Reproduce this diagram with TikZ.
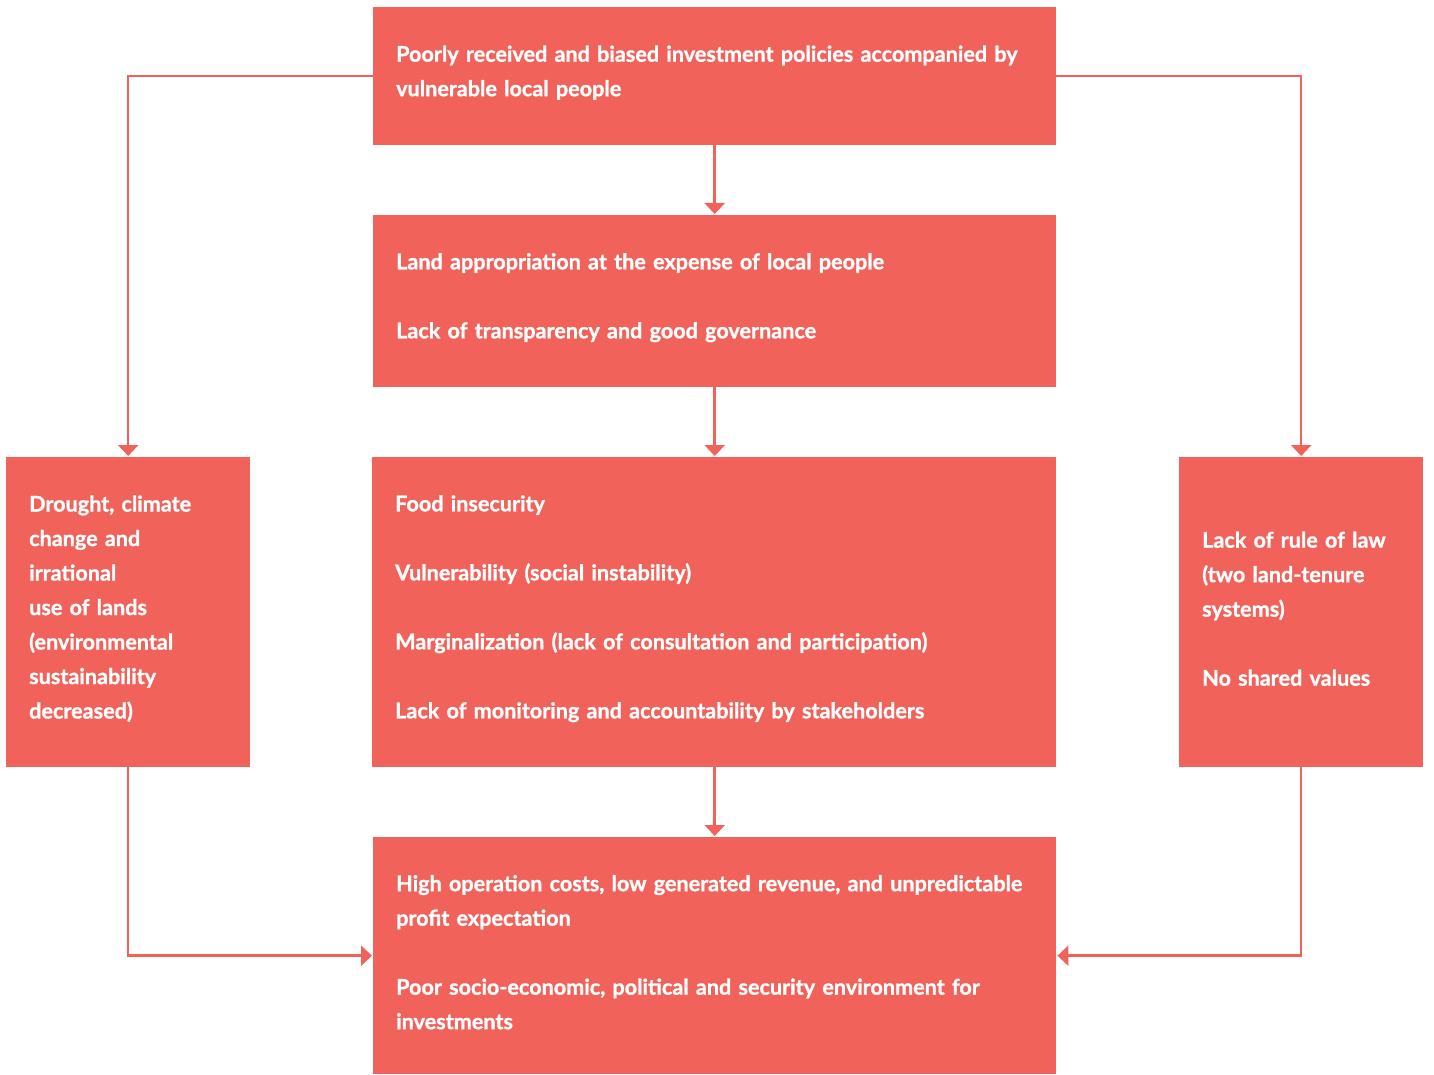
\documentclass[tikz,border=0pt]{standalone}
\usepackage{fontspec}
\setmainfont{Lato}[BoldFeatures={FakeBold=1.2}]
\usetikzlibrary{arrows.meta}
\definecolor{boxred}{HTML}{F0625A}
\tikzset{
  box/.style={fill=boxred, draw=none, text=white, align=left, inner xsep=23pt, inner ysep=0pt,
    font=\bfseries\fontsize{21.6}{34.5}\selectfont, anchor=north west,
    execute at end node={\par\vspace{7pt}}},
  conn/.style={draw=boxred, line width=2.5pt, -{Triangle[width=20pt,length=11pt]}, shorten >=1pt}
}
\begin{document}
\begin{tikzpicture}[x=1pt,y=-1pt]
\useasboundingbox (0,0) rectangle (1434,1075);
\node[box, text width=637pt, minimum height=138pt] (top) at (373,7)
  {Poorly received and biased investment policies accompanied by\\vulnerable local people};
\node[box, text width=637pt, minimum height=172pt] (second) at (373,215)
  {Land appropriation at the expense of local people\\[34.5pt]Lack of transparency and good governance};
\node[box, text width=638pt, minimum height=310pt] (mid) at (372,457)
  {Food insecurity\\[34.5pt]Vulnerability (social instability)\\[34.5pt]Marginalization (lack of consultation and participation)\\[34.5pt]Lack of monitoring and accountability by stakeholders};
\node[box, text width=198pt, minimum height=310pt] (left) at (6,457)
  {Drought, climate\\change and\\irrational\\use of lands\\(environmental\\sustainability\\decreased)};
\node[box, text width=198pt, minimum height=310pt] (right) at (1179,457)
  {Lack of rule of law\\(two land-tenure\\systems)\\[34.5pt]No shared values};
\node[box, text width=637pt, minimum height=237pt] (bottom) at (373,837)
  {High operation costs, low generated revenue, and unpredictable\\profit expectation\\[34.5pt]Poor socio-economic, political and security environment for\\investments};
\draw[conn] (top.west) -| (left.north);
\draw[conn] (top.east) -| (right.north);
\draw[conn] (top.south) -- (second.north);
\draw[conn] (second.south) -- (second.south |- mid.north);
\draw[conn] (mid.south -| bottom.north) -- (bottom.north);
\draw[conn] (left.south) |- (bottom.west);
\draw[conn] (right.south) |- (bottom.east);
\end{tikzpicture}
\end{document}
